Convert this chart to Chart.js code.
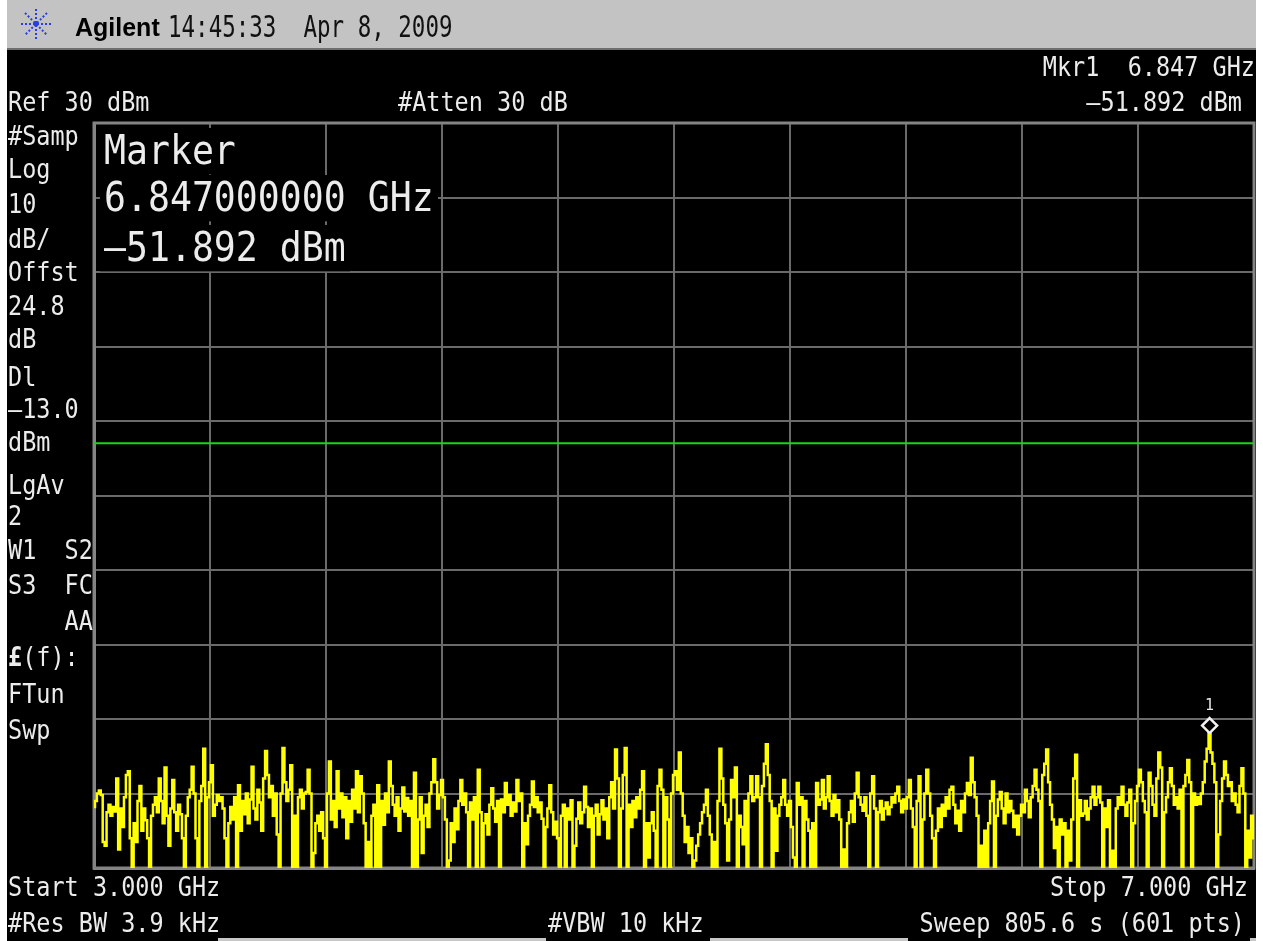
<!DOCTYPE html>
<html>
<head>
<meta charset="utf-8">
<title>Agilent spectrum sweep</title>
<script src="https://cdn.jsdelivr.net/npm/chart.js@4/dist/chart.umd.min.js"></script>
<style>
  html, body { margin: 0; padding: 0; background: #ffffff; }
  body { width: 1263px; height: 941px; position: relative; overflow: hidden; }
  #screen { position: absolute; left: 7px; top: 0; width: 1249px; height: 941px; background: #000; }
  #header { position: absolute; left: 7px; top: 0; width: 1249px; height: 48px; background: #c3c3c3; border-bottom: 2px solid #6f6f6f; }
  #logo { position: absolute; left: 20px; top: 8px; }
  .softbar { position: absolute; top: 938px; height: 3px; background: #c8c8c8; }
  #spec { position: absolute; left: 0; top: 0; }
  .t { position: absolute; white-space: pre; line-height: 1; transform-origin: 0 0; }
  .t.r { transform-origin: 100% 0; }
</style>
</head>
<body>
<div id="screen"></div>
<div id="header"></div>
<svg id="logo" width="32" height="32" viewBox="0 0 32 32">
  <g stroke="#2a3fe0" stroke-width="2" stroke-dasharray="2 2" stroke-linecap="butt">
    <line x1="16" y1="1" x2="16" y2="31"/>
    <line x1="1" y1="16" x2="31" y2="16"/>
    <line x1="5" y1="5" x2="27" y2="27"/>
    <line x1="27" y1="5" x2="5" y2="27"/>
  </g>
  <circle cx="16" cy="16" r="2.5" fill="#2a3fe0"/>
</svg>
<div class="softbar" style="left:218px;width:328px"></div>
<div class="softbar" style="left:710px;width:198px"></div>
<div class="softbar" style="left:1250px;width:6px"></div>
<canvas id="spec" width="1263" height="941"></canvas>

<script>
// Instrument settings
const FREQ_START = 3.0;      // GHz
const FREQ_STOP = 7.0;       // GHz
const REF_LEVEL = 30;        // dBm, top graticule line
const DB_PER_DIV = 10;
const DIVISIONS = 10;
const DISPLAY_LINE = -13.0;  // dBm
const MKR_FREQ = 6.847;      // GHz
const MKR_LEVEL = -51.892;   // dBm

// Swept trace, 601 points, one array per horizontal graticule division (dBm)
const div0 = [-61.8,-61,-60,-59.6,-60.2,-66.5,-67,-62.5,-61.5,-63, -61.8,-62.4,-58,-67.5,-62,-64.5,-60.5,-57.5,-57,-66,
  -72,-64,-66.5,-61,-59,-65,-62,-63.6,-66,-70.5, -63,-61.5,-60.5,-62.5,-58,-61,-64,-56.5,-63,-67,
  -62,-58.2,-62.5,-65,-61.5,-62.8,-66,-72,-63,-60.5, -59.5,-56.4,-60,-66,-72,-61,-59,-54,-72,-60.5];
const div1 = [-58.5,-56.2,-63,-61.5,-60.2,-61,-60.5,-62,-66,-70.7, -64,-61.8,-63.5,-60.5,-71.5,-58.9,-65,-61,-62.8,-60,
  -64,-60.8,-56.4,-62,-63.5,-59.5,-61.2,-65,-58,-54.3, -57.5,-60.5,-59,-63,-60,-65.5,-72,-60,-53.9,-58.5,
  -61,-59.5,-56.2,-71,-63,-71,-60.5,-59.5,-62,-60, -59.8,-56.8,-60,-71,-68,-64,-63,-65,-62.5,-66];
const div2 = [-72,-60,-55.7,-63.5,-61,-64.5,-57,-62,-60,-63.2, -60.5,-66,-61,-63.8,-59.5,-62,-57,-62.5,-57.7,-60,
  -64,-71,-66.5,-72,-63,-61.5,-71,-58.9,-71,-61, -64.2,-60,-62.5,-55.7,-59,-61.5,-63,-60.5,-65,-62,
  -59.2,-62.4,-60.6,-63,-61,-72,-57.2,-71,-63.5,-60.5, -68,-63,-61.5,-64.5,-60,-58.5,-55.4,-58.5,-62,-60.2];
const div3 = [-58.2,-60.5,-63.5,-71.5,-69,-64,-66.5,-62,-64.8,-61, -58.2,-61.5,-60,-62.5,-71,-61.2,-63.5,-60.5,-70,-56.8,
  -62.5,-72,-64,-62.8,-65.5,-61.5,-59.3,-62,-63.8,-61, -70.5,-60.8,-62.5,-58.6,-61.5,-60.2,-63,-61.2,-62.4,-58.2,
  -61,-60,-71,-64,-66.8,-63,-61.5,-58.4,-61.8,-60.5, -62.5,-61.2,-63.4,-70,-64.5,-62,-58.9,-62.5,-65.5,-63.8];
const div4 = [-66,-72,-63,-61.5,-72,-62,-63.5,-60.9,-71,-67, -63.4,-61.2,-64,-62.5,-59.1,-61.8,-64.5,-62,-71.5,-63,
  -61.5,-65.5,-62.8,-60.9,-63.5,-62,-66,-60.5,-58.5,-62, -54.1,-58,-72,-62,-57.5,-53.9,-71.5,-61.5,-64.5,-61,
  -63.2,-60.5,-62,-59.5,-57,-71,-64,-68.6,-64,-62.5, -65,-71,-59,-56.8,-59.5,-71,-60.5,-63.5,-71,-60];
const div5 = [-57.5,-57,-59.5,-54.5,-60,-63,-66.5,-64.5,-68,-66, -72,-69,-67,-65.5,-64,-62.5,-61.5,-59.5,-63,-65.5,
  -71,-66.5,-72,-61,-54,-58,-61.5,-64,-69,-63.5, -58.2,-60.5,-56.5,-70.5,-63,-64.5,-66.8,-61,-71,-60,
  -57.7,-61,-60.5,-57.7,-60.5,-71.5,-59,-56,-53.4,-57.5, -61,-70,-62,-67.7,-63,-61.5,-60.5,-58.2,-61.5,-63];
const div6 = [-61,-64.5,-68.6,-71,-58.6,-61.5,-60.5,-71.5,-61,-63.5, -65,-72,-64,-71.5,-58.6,-61.5,-60.8,-58.2,-62,-60.5,
  -57.7,-61,-63,-60.2,-62.5,-60.9,-63.5,-71,-67.5,-72, -64,-62.5,-61,-63.8,-60,-57.2,-60.5,-61.5,-62.3,-60.5,
  -63,-71,-60,-57.7,-62,-72,-62.5,-61,-63.5,-62, -61.2,-62.8,-61.8,-60.5,-61.2,-60,-59.1,-61,-62.5,-60.8];
const div7 = [-62,-60.5,-58.2,-62,-64.5,-72,-61,-57.7,-71,-63.5, -60,-56.8,-60,-63,-66,-72,-65,-62,-64.5,-61.5,
  -63,-60.5,-62,-59.5,-59.1,-61.5,-64,-62.3,-65,-61, -62.5,-60,-58.6,-60.2,-55.2,-58.5,-60.5,-63,-71,-67,
  -72,-65,-71.5,-64,-61,-58.4,-71,-63,-60.8,-59.8, -62,-64,-60,-62.5,-61,-62.3,-64.5,-63,-65.5,-63];
const div8 = [-61.5,-62.5,-59.5,-61,-63.2,-60.5,-59,-56.8,-59.5,-61, -71,-57.5,-56,-54.1,-58.5,-61.5,-63.5,-67.3,-64.5,-72,
  -63.5,-65.5,-64,-71.5,-65,-69,-63.5,-58,-54.8,-70.5, -60.9,-63,-62.7,-61,-63.5,-62,-60.5,-59.1,-61.5,-60.5,
  -59.1,-61.2,-71,-62,-64.5,-60.9,-71.5,-67.7,-70,-62, -60.5,-61.5,-59.1,-61.5,-63,-61.2,-59.5,-71,-64,-61];
const div9 = [-59,-56.8,-58.5,-61,-62.5,-71,-57.2,-59,-61.5,-63, -58,-54.5,-56.5,-71,-62.5,-60.5,-58.5,-56.6,-59,-61.5,
  -60.5,-62,-59.5,-71.5,-59,-57.5,-55.5,-58.5,-71,-60, -61.5,-60.5,-61.4,-60,-58.5,-55.7,-54,-51.892,-54.5,-56,
  -58.5,-72,-65.5,-61,-58,-55.7,-57.5,-59,-58.5,-61, -60,-61.5,-62.5,-59,-56.6,-60,-72,-65,-68.6,-63,
  -66];

const traceLevels = [].concat(div0, div1, div2, div3, div4, div5, div6, div7, div8, div9);
const sweepStep = (FREQ_STOP - FREQ_START) / (traceLevels.length - 1);
const tracePoints = traceLevels.map((v, i) => ({ x: FREQ_START + i * sweepStep, y: v }));

// Annotation text
const dash = s => s.replace('-', '\u2013');
const leftPanel = ['#Samp', 'Log', String(DB_PER_DIV), 'dB/', 'Offst', '24.8', 'dB', 'Dl',
  dash(DISPLAY_LINE.toFixed(1)), 'dBm', 'LgAv', '2', 'W1  S2', 'S3  FC', '    AA', '\u00a3(f):', 'FTun', 'Swp'];
const leftBaselines = [146, 179, 214, 249, 282, 316, 349, 387, 419, 452, 495, 526, 560, 595, 631, 667, 704, 740];

const MONO = '"DejaVu Sans Mono", monospace';
const ASC = 0.846;
function addText(str, x, base, opt) {
  const o = Object.assign({ size: 23.5, sy: 1.16, align: 'left', color: '#ececec', family: MONO, weight: 'normal', bg: null }, opt || {});
  const d = document.createElement('div');
  d.className = 't' + (o.align === 'right' ? ' r' : '');
  if (o.html) d.innerHTML = str; else d.textContent = str;
  d.style.fontSize = o.size + 'px';
  d.style.fontFamily = o.family;
  d.style.fontWeight = o.weight;
  d.style.color = o.color;
  if (o.bg) { d.style.background = o.bg; d.style.padding = '2px 4px'; }
  const pad = o.bg ? 2 : 0;
  d.style.top = (base - pad * o.sy - ASC * o.size * o.sy) + 'px';
  d.style.transform = 'scaleY(' + o.sy + ')';
  if (o.align === 'right') d.style.right = (1263 - x) + 'px';
  else d.style.left = (x - (o.bg ? 4 : 0)) + 'px';
  document.body.appendChild(d);
}

// Header bar
addText('Agilent', 75, 36, { size: 25, sy: 1.05, family: '"Liberation Sans", Arial, sans-serif', weight: 'bold', color: '#000' });
addText('14:45:33  Apr 8, 2009', 168, 37, { size: 22.5, sy: 1.3, color: '#111' });

// Top status lines
addText('Mkr1  ' + MKR_FREQ.toFixed(3) + ' GHz', 1255, 77, { align: 'right' });
addText('Ref ' + REF_LEVEL + ' dBm', 8, 112);
addText('#Atten 30 dB', 398, 112);
addText(dash(MKR_LEVEL.toFixed(3)) + ' dBm', 1242, 112, { align: 'right' });

// Left-hand settings column
leftPanel.forEach((s, i) => {
  if (s.startsWith('\u00a3')) addText('<b>\u00a3</b>(f):', 8, leftBaselines[i], { html: true });
  else addText(s, 8, leftBaselines[i]);
});

// Marker readout inside the graticule
addText('Marker', 104, 165, { size: 36.5, sy: 1.13, bg: '#000' });
addText(MKR_FREQ.toFixed(9) + ' GHz', 104, 212, { size: 36.5, sy: 1.13, bg: '#000' });
addText(dash(MKR_LEVEL.toFixed(3)) + ' dBm', 104, 262, { size: 36.5, sy: 1.13, bg: '#000' });

// Bottom status lines
addText('Start ' + FREQ_START.toFixed(3) + ' GHz', 8, 897);
addText('Stop ' + FREQ_STOP.toFixed(3) + ' GHz', 1248, 897, { align: 'right' });
addText('#Res BW 3.9 kHz', 8, 933);
addText('#VBW 10 kHz', 548, 933);
addText('Sweep 805.6 s (' + traceLevels.length + ' pts)', 1245, 933, { align: 'right' });

// Graticule frame and marker symbol
const graticulePlugin = {
  id: 'graticule',
  beforeDatasetsDraw(chart) {
    const { ctx, chartArea: a } = chart;
    ctx.save();
    ctx.strokeStyle = '#848484';
    ctx.lineWidth = 3;
    ctx.strokeRect(a.left, a.top, a.right - a.left, a.bottom - a.top);
    ctx.restore();
  },
  afterDatasetsDraw(chart) {
    const { ctx } = chart;
    const px = chart.scales.x.getPixelForValue(MKR_FREQ);
    const py = chart.scales.y.getPixelForValue(MKR_LEVEL);
    const h = 7.5, cy = py - h;
    ctx.save();
    ctx.beginPath();
    ctx.moveTo(px, cy - h);
    ctx.lineTo(px + h, cy);
    ctx.lineTo(px, cy + h);
    ctx.lineTo(px - h, cy);
    ctx.closePath();
    ctx.fillStyle = '#000';
    ctx.fill();
    ctx.strokeStyle = '#f2f2f2';
    ctx.lineWidth = 2.5;
    ctx.stroke();
    ctx.fillStyle = '#e8e8e8';
    ctx.font = '15px ' + MONO;
    ctx.textAlign = 'center';
    ctx.textBaseline = 'alphabetic';
    ctx.fillText('1', px, cy - h - 8);
    ctx.restore();
  }
};

const gridOpts = { color: '#6a6a6a', lineWidth: 2, drawTicks: false };
const borderOpts = { color: '#848484', width: 3 };

new Chart(document.getElementById('spec').getContext('2d'), {
  type: 'line',
  data: {
    datasets: [
      {
        label: 'Trace 1',
        data: tracePoints,
        borderColor: '#ffff00',
        borderWidth: 2.5,
        pointRadius: 0,
        stepped: 'middle',
        fill: false,
        order: 1
      },
      {
        label: 'Display line',
        data: [{ x: FREQ_START, y: DISPLAY_LINE }, { x: FREQ_STOP, y: DISPLAY_LINE }],
        borderColor: '#1ed21e',
        borderWidth: 2,
        pointRadius: 0,
        fill: false,
        order: 2
      }
    ]
  },
  options: {
    responsive: false,
    animation: false,
    devicePixelRatio: 1,
    layout: { padding: { left: 94, top: 123, right: 9, bottom: 73 } },
    scales: {
      x: {
        type: 'linear',
        min: FREQ_START,
        max: FREQ_STOP,
        ticks: { display: false, stepSize: (FREQ_STOP - FREQ_START) / DIVISIONS },
        grid: gridOpts,
        border: borderOpts
      },
      y: {
        type: 'linear',
        min: REF_LEVEL - DB_PER_DIV * DIVISIONS,
        max: REF_LEVEL,
        ticks: { display: false, stepSize: DB_PER_DIV },
        grid: gridOpts,
        border: borderOpts
      }
    },
    plugins: { legend: { display: false }, tooltip: { enabled: false } }
  },
  plugins: [graticulePlugin]
});
</script>
</body>
</html>
